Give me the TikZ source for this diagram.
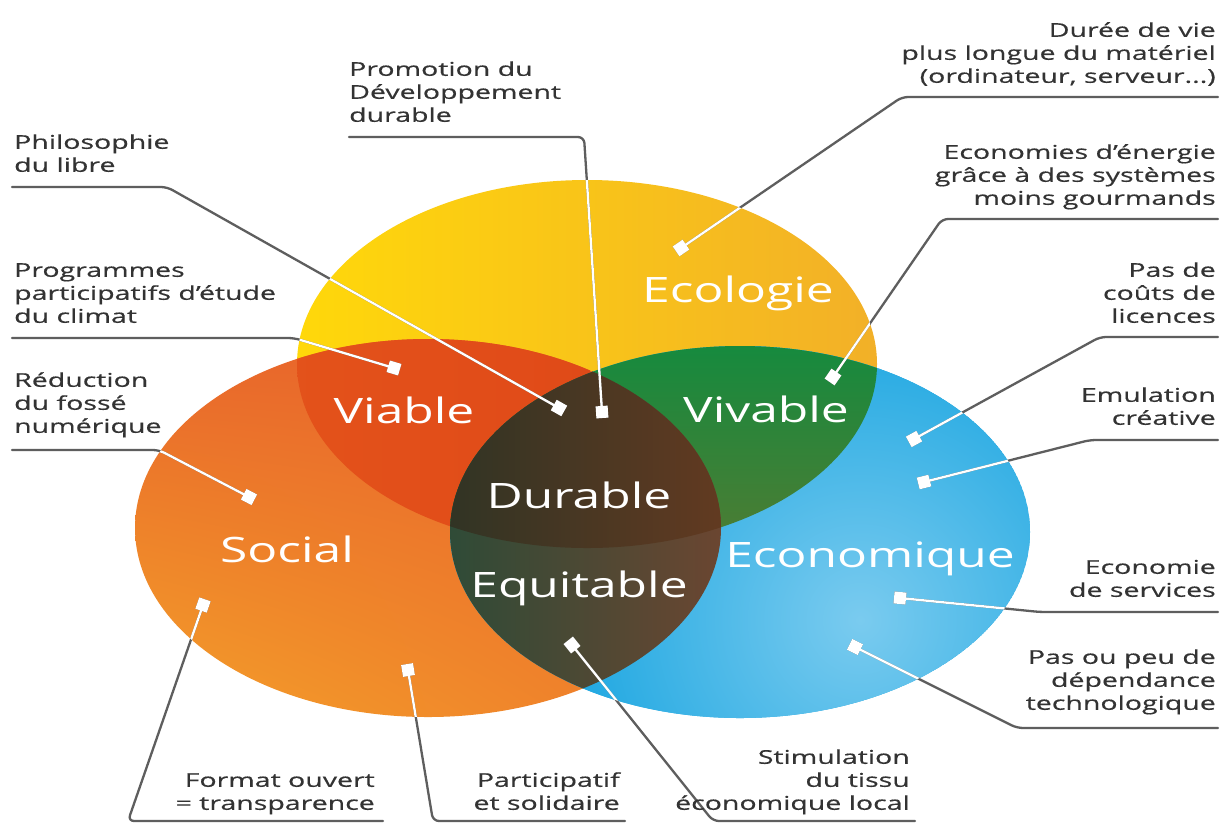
\documentclass[tikz,border=0pt]{standalone}
\usepackage{fontspec}
\setmainfont{Open Sans}[FakeStretch=1.5, FakeBold=0.5]
\newfontfamily\bigfont{Open Sans}[FakeStretch=1.42]
\usetikzlibrary{arrows.meta,shadings}
\definecolor{ylA}{HTML}{FFD80A}
\definecolor{ylB}{HTML}{F2B028}
\definecolor{orA}{HTML}{E8652B}
\definecolor{orB}{HTML}{F4A029}
\definecolor{orC}{HTML}{EE7A2C}
\definecolor{blA}{HTML}{1EA7E1}
\definecolor{blB}{HTML}{7ACBEF}
\definecolor{viaA}{HTML}{E5561C}
\definecolor{viaB}{HTML}{E04A18}
\definecolor{vivA}{HTML}{168A3E}
\definecolor{vivB}{HTML}{4E7C33}
\definecolor{durA}{HTML}{303424}
\definecolor{durB}{HTML}{623A21}
\definecolor{eqA}{HTML}{2E4B37}
\definecolor{eqB}{HTML}{6B4631}
\definecolor{leadgrey}{HTML}{5E5E5E}
\definecolor{txt}{HTML}{333333}
\newcommand\ellY{(587,364) ellipse [x radius=290pt, y radius=184pt]}
\newcommand\ellO{(428,528) ellipse [x radius=293pt, y radius=189pt]}
\newcommand\ellB{(740,532) ellipse [x radius=290pt, y radius=186pt]}
\newcommand\allleads{%
  \draw[lead] (uPhilo) -- (bPhilo) -- (mPhilo);
  \draw[lead] (uProg) -- (bProg) -- (mProg);
  \draw[lead] (uReduc) -- (bReduc) -- (mReduc);
  \draw[lead] (uPromo) -- (bPromo) -- (mPromo);
  \draw[lead] (uDuree) -- (bDuree) -- (mDuree);
  \draw[lead] (uEcon) -- (bEcon) -- (mEcon);
  \draw[lead] (uPasDe) -- (bPasDe) -- (mPasDe);
  \draw[lead] (uEmul) -- (bEmul) -- (mEmul);
  \draw[lead] (uServ) -- (bServ) -- (mServ);
  \draw[lead] (uPasOu) -- (bPasOu) -- (mPasOu);
  \draw[lead] (uFormat) -- (bFormat) -- (mFormat);
  \draw[lead] (uPartic) -- (bPartic) -- (mPartic);
  \draw[lead] (uStim) -- (bStim) -- (mStim);
}
\begin{document}
\begin{tikzpicture}[x=1pt,y=-1pt,
  lbl/.style={inner sep=0pt, text depth=0pt, text=txt, font=\fontsize{19}{23}\selectfont},
  lblL/.style={lbl, align=left, anchor=south west},
  lblR/.style={lbl, align=right, anchor=south east},
  big/.style={inner sep=0pt, anchor=base, text=white, font=\bigfont\fontsize{35}{40}\selectfont},
  lead/.style={draw=leadgrey, line width=2.3pt, rounded corners=6pt, line cap=round,
    -{Square[length=12pt,width=12pt]}, shorten >=-6pt}]
\fill[white] (0,0) rectangle (1222,823);
\useasboundingbox (0,0) rectangle (1222,823);

% base discs
\shade[left color=ylA, right color=ylB] \ellY;
\shade[upper left=orA, upper right=orA, lower left=orB, lower right=orC] \ellO;
\begin{scope}
  \clip \ellB;
  \fill[blA] \ellB;
  \shade[inner color=blB, outer color=blA] (860,620) circle (300pt);
\end{scope}
% Viable
\begin{scope}
  \clip \ellY; \clip \ellO;
  \shade[left color=viaA, right color=viaB] (135,339) rectangle (590,548);
\end{scope}
% Vivable
\begin{scope}
  \clip \ellY; \clip \ellB;
  \shade[upper left=vivA, upper right=vivA, lower left=vivB, lower right=vivB] (450,346) rectangle (880,548);
\end{scope}
% Equitable
\begin{scope}
  \clip \ellO; \clip \ellB;
  \shade[left color=eqA, right color=eqB] (445,346) rectangle (722,718);
\end{scope}
% Durable
\begin{scope}
  \clip \ellY; \clip \ellO; \clip \ellB;
  \shade[left color=durA, right color=durB] (445,360) rectangle (722,550);
\end{scope}

% connector points
\coordinate (uPhilo) at (12,187);   \coordinate (bPhilo) at (167,187);  \coordinate (mPhilo) at (559,408);
\coordinate (uProg) at (12,338);    \coordinate (bProg) at (294,338);   \coordinate (mProg) at (394,368);
\coordinate (uReduc) at (12,450);   \coordinate (bReduc) at (159,450);  \coordinate (mReduc) at (249,497);
\coordinate (uPromo) at (349,137);  \coordinate (bPromo) at (584,137);  \coordinate (mPromo) at (602,412);
\coordinate (uDuree) at (1218,97);  \coordinate (bDuree) at (902,97);   \coordinate (mDuree) at (681,248);
\coordinate (uEcon) at (1218,219);  \coordinate (bEcon) at (942,219);   \coordinate (mEcon) at (833,377);
\coordinate (uPasDe) at (1218,337); \coordinate (bPasDe) at (1100,337); \coordinate (mPasDe) at (914,439);
\coordinate (uEmul) at (1218,440);  \coordinate (bEmul) at (1090,440);  \coordinate (mEmul) at (924,482);
\coordinate (uServ) at (1218,612);  \coordinate (bServ) at (1040,612);  \coordinate (mServ) at (900,598);
\coordinate (uPasOu) at (1218,728); \coordinate (bPasOu) at (1017,728); \coordinate (mPasOu) at (855,647);
\coordinate (uFormat) at (383,821); \coordinate (bFormat) at (128,821); \coordinate (mFormat) at (203,605);
\coordinate (uPartic) at (625,821); \coordinate (bPartic) at (433,821); \coordinate (mPartic) at (408,670);
\coordinate (uStim) at (915,821);   \coordinate (bStim) at (713,821);   \coordinate (mStim) at (572,645);

% grey connectors, then white inside the discs
\allleads
\begin{scope}[lead/.style={draw=white, line width=2.3pt, rounded corners=6pt, line cap=round,
    -{Square[length=12pt,width=12pt]}, shorten >=-6pt}]
  \clip \ellY \ellO \ellB;
  \allleads
\end{scope}

% disc labels
\node[big] (lEco) at (738,302) {Ecologie};
\node[big] (lVia) at (404,423) {Viable};
\node[big] (lViv) at (766,422) {Vivable};
\node[big] (lDur) at (579,508) {Durable};
\node[big] (lSoc) at (287,562) {Social};
\node[big] (lEqu) at (579,597) {Equitable};
\node[big] (lEcn) at (870,567) {Economique};

% outer labels
\node[lblL] (tPhilo) at (14,172) {Philosophie\\du libre};
\node[lblL] (tProg) at (14,323) {Programmes\\participatifs d'étude\\du climat};
\node[lblL] (tReduc) at (14,433) {Réduction\\du fossé\\numérique};
\node[lblL] (tPromo) at (349,122) {Promotion du\\Développement\\durable};
\node[lblR] (tDuree) at (1216,83) {Durée de vie\\plus longue du matériel\\(ordinateur, serveur...)};
\node[lblR] (tEcon) at (1216,205) {Economies d'énergie\\grâce à des systèmes\\moins gourmands};
\node[lblR] (tPasDe) at (1216,323) {Pas de\\coûts de\\licences};
\node[lblR] (tEmul) at (1216,425) {Emulation\\créative};
\node[lblR] (tServ) at (1216,597) {Economie\\de services};
\node[lblR] (tPasOu) at (1216,710) {Pas ou peu de\\dépendance\\technologique};
\node[lblR] (tFormat) at (375,810) {Format ouvert\\= transparence};
\node[lblR] (tPartic) at (620,810) {Participatif\\et solidaire};
\node[lblR] (tStim) at (910,810) {Stimulation\\du tissu\\économique local};
\end{tikzpicture}
\end{document}
